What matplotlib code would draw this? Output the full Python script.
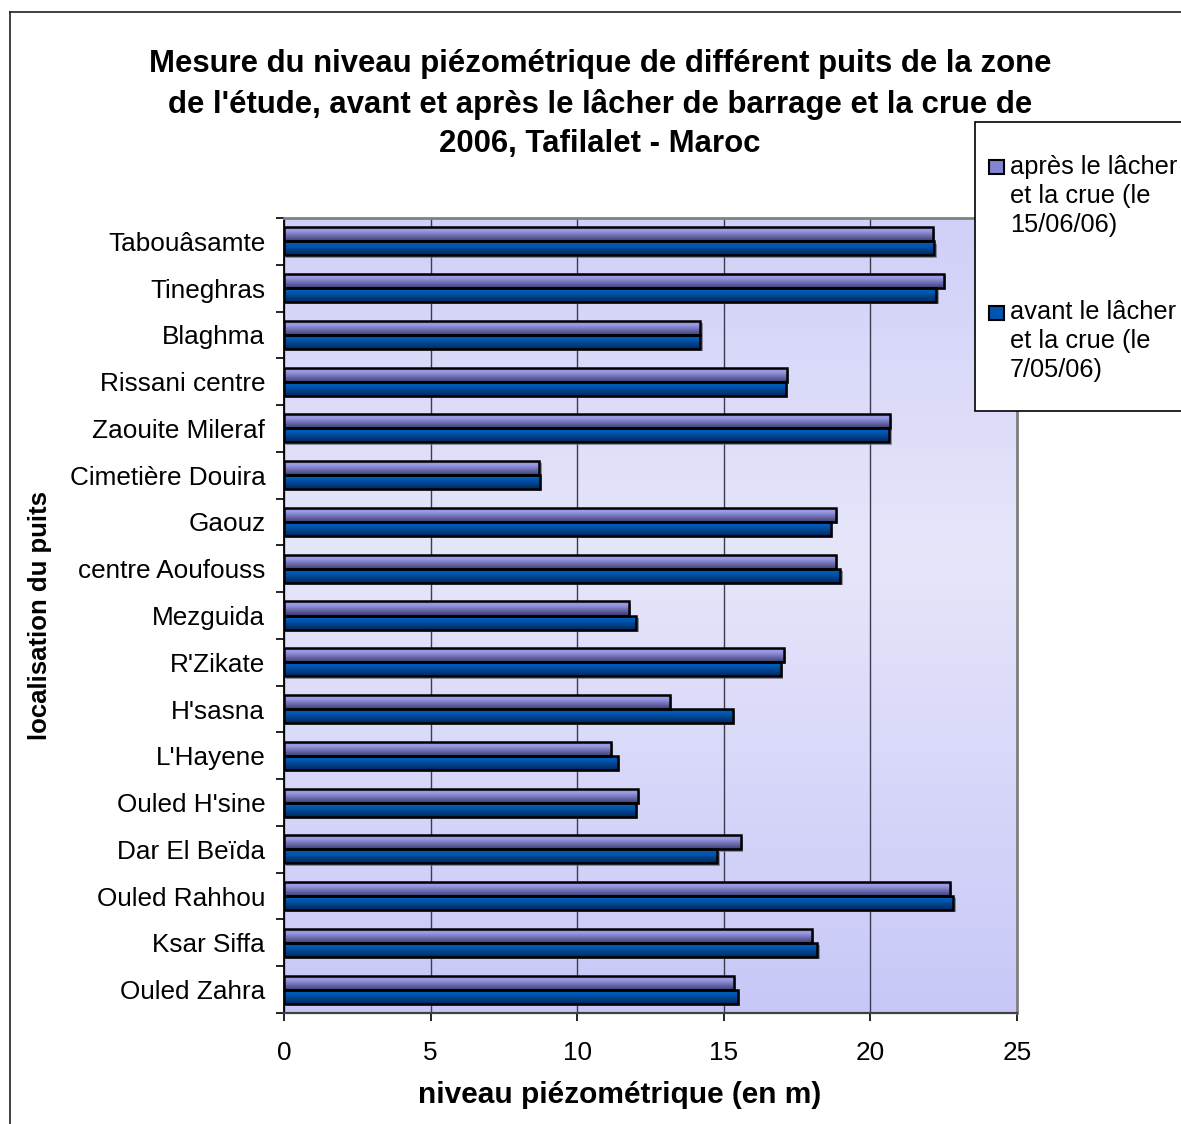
import numpy as np
import matplotlib
matplotlib.use('Agg')
import matplotlib.pyplot as plt
from matplotlib.patches import Rectangle
from matplotlib.lines import Line2D
import matplotlib.patheffects as pe
from matplotlib.colors import LinearSegmentedColormap

plt.rcParams['font.family'] = ['Liberation Sans', 'DejaVu Sans']

# ---------------- data ----------------
wells = ["Tabouâsamte", "Tineghras", "Blaghma", "Rissani centre", "Zaouite Mileraf",
         "Cimetière Douira", "Gaouz", "centre Aoufouss", "Mezguida", "R'Zikate",
         "H'sasna", "L'Hayene", "Ouled H'sine", "Dar El Beïda", "Ouled Rahhou",
         "Ksar Siffa", "Ouled Zahra"]
apres = [22.12, 22.50, 14.20, 17.15, 20.67, 8.71, 18.81, 18.81, 11.77, 17.05,
         13.16, 11.15, 12.06, 15.57, 22.71, 18.00, 15.34]
avant = [22.18, 22.25, 14.20, 17.12, 20.65, 8.74, 18.64, 18.98, 12.02, 16.94,
         15.32, 11.39, 12.00, 14.78, 22.83, 18.19, 15.48]
series_labels = ["après le lâcher\net la crue (le\n15/06/06)",
                 "avant le lâcher\net la crue (le\n7/05/06)"]
xticks = [0, 5, 10, 15, 20, 25]
title = ("Mesure du niveau piézométrique de différent puits de la zone\n"
         "de l'étude, avant et après le lâcher de barrage et la crue de\n"
         "2006, Tafilalet - Maroc")
xlabel = "niveau piézométrique (en m)"
ylabel = "localisation du puits"

W, H = 1181, 1124
fig = plt.figure(figsize=(W / 100, H / 100), dpi=100)
fig.patch.set_facecolor('white')

def fx(px):
    return px / W

def fy(py):
    return 1 - py / H

ax = fig.add_axes([fx(284), fy(1013), fx(1017) - fx(284), fy(218) - fy(1013)])
ax.set_facecolor('none')

# plot background gradient
bg = LinearSegmentedColormap.from_list('bg', [(0, '#D0D0F8'), (0.42, '#E6E6FB'), (1, '#C8C8F8')])
ax.imshow(np.linspace(0, 1, 256).reshape(-1, 1), cmap=bg, extent=(0, 1, 0, 1),
          transform=ax.transAxes, aspect='auto', zorder=0, origin='upper')

cm_ap = LinearSegmentedColormap.from_list('ap', [(0, '#8A8AD8'), (0.3, '#9C9CE8'), (1, '#3E3E74')])
cm_av = LinearSegmentedColormap.from_list('av', [(0, '#0062C4'), (0.35, '#0058B2'), (1, '#00285C')])

h = 0.3
y = np.arange(len(wells))
grad = np.linspace(0, 1, 64).reshape(-1, 1)
for vals, off, cm in [(apres, -h / 2, cm_ap), (avant, h / 2, cm_av)]:
    bars = ax.barh(y + off, vals, height=h, color='#707070', edgecolor='none', zorder=2,
                   path_effects=[pe.SimplePatchShadow(offset=(1.6, -1.6), shadow_rgbFace='#6A6A80', alpha=0.7),
                                 pe.Normal()])
    for b in bars:
        x0, y0, w, hh = b.get_x(), b.get_y(), b.get_width(), b.get_height()
        im = ax.imshow(grad, cmap=cm, extent=(x0, x0 + w, y0 + hh, y0), aspect='auto',
                       zorder=3, origin='upper', interpolation='bilinear')
        im.set_clip_path(b)
    ax.barh(y + off, vals, height=h, facecolor='none', edgecolor='black', linewidth=1.8, zorder=4)

ax.set_xlim(0, 25)
ax.set_ylim(len(wells) - 0.5, -0.5)

ax.set_xticks(xticks)
ax.set_xticklabels([str(t) for t in xticks])
ax.set_yticks(np.arange(-0.5, len(wells)), labels=[''] * (len(wells) + 1))
ax.set_yticks(y, labels=wells, minor=True)
ax.tick_params(axis='y', which='major', length=6, width=1.2, direction='out', color='black')
ax.tick_params(axis='y', which='minor', length=0, pad=13.5, labelsize=18.8)
ax.tick_params(axis='x', which='major', length=6, width=1.2, direction='out', pad=14, labelsize=18.8)

ax.xaxis.grid(True, color='#3C3C50', linewidth=1.0, zorder=1)
ax.set_axisbelow(True)

for s in ['top', 'right']:
    ax.spines[s].set_color('#808080')
    ax.spines[s].set_linewidth(2)
ax.spines['left'].set_color('black')
ax.spines['left'].set_linewidth(1.3)
ax.spines['bottom'].set_color('#404040')
ax.spines['bottom'].set_linewidth(1.6)

# texts
fig.text(fx(600), fy(104), title, ha='center', va='center', fontsize=22.4, fontweight='bold',
         linespacing=1.42, multialignment='center')
fig.text(fx(620), fy(1095), xlabel, ha='center', va='center', fontsize=21.5, fontweight='bold')
fig.text(fx(40), fy(616), ylabel, ha='center', va='center', rotation=90, fontsize=18.5, fontweight='bold')

# chart frame
fig.add_artist(Line2D([fx(10), fx(10)], [fy(12), 0], transform=fig.transFigure, color='#202020', lw=1.2))
fig.add_artist(Line2D([fx(10), 1], [fy(12), fy(12)], transform=fig.transFigure, color='#202020', lw=1.2))

# legend
fig.add_artist(Rectangle((fx(975), fy(411)), 1.0, fy(122) - fy(411), transform=fig.transFigure,
                         facecolor='white', edgecolor='black', lw=1.2, zorder=10))
sq_colors = ['#8484D4', '#0056AE']
entry_mid = [196, 341]
entry_sq = [167, 313]
for lab, c, ym, ys in zip(series_labels, sq_colors, entry_mid, entry_sq):
    fig.add_artist(Rectangle((fx(989), fy(ys + 7)), fx(1004) - fx(989), fy(ys - 7) - fy(ys + 7),
                             transform=fig.transFigure, facecolor=c, edgecolor='black', lw=1.5, zorder=11))
    fig.text(fx(1010), fy(ym), lab, ha='left', va='center', fontsize=18.3, linespacing=1.27, zorder=12)

fig.savefig('out.png', dpi=100)
